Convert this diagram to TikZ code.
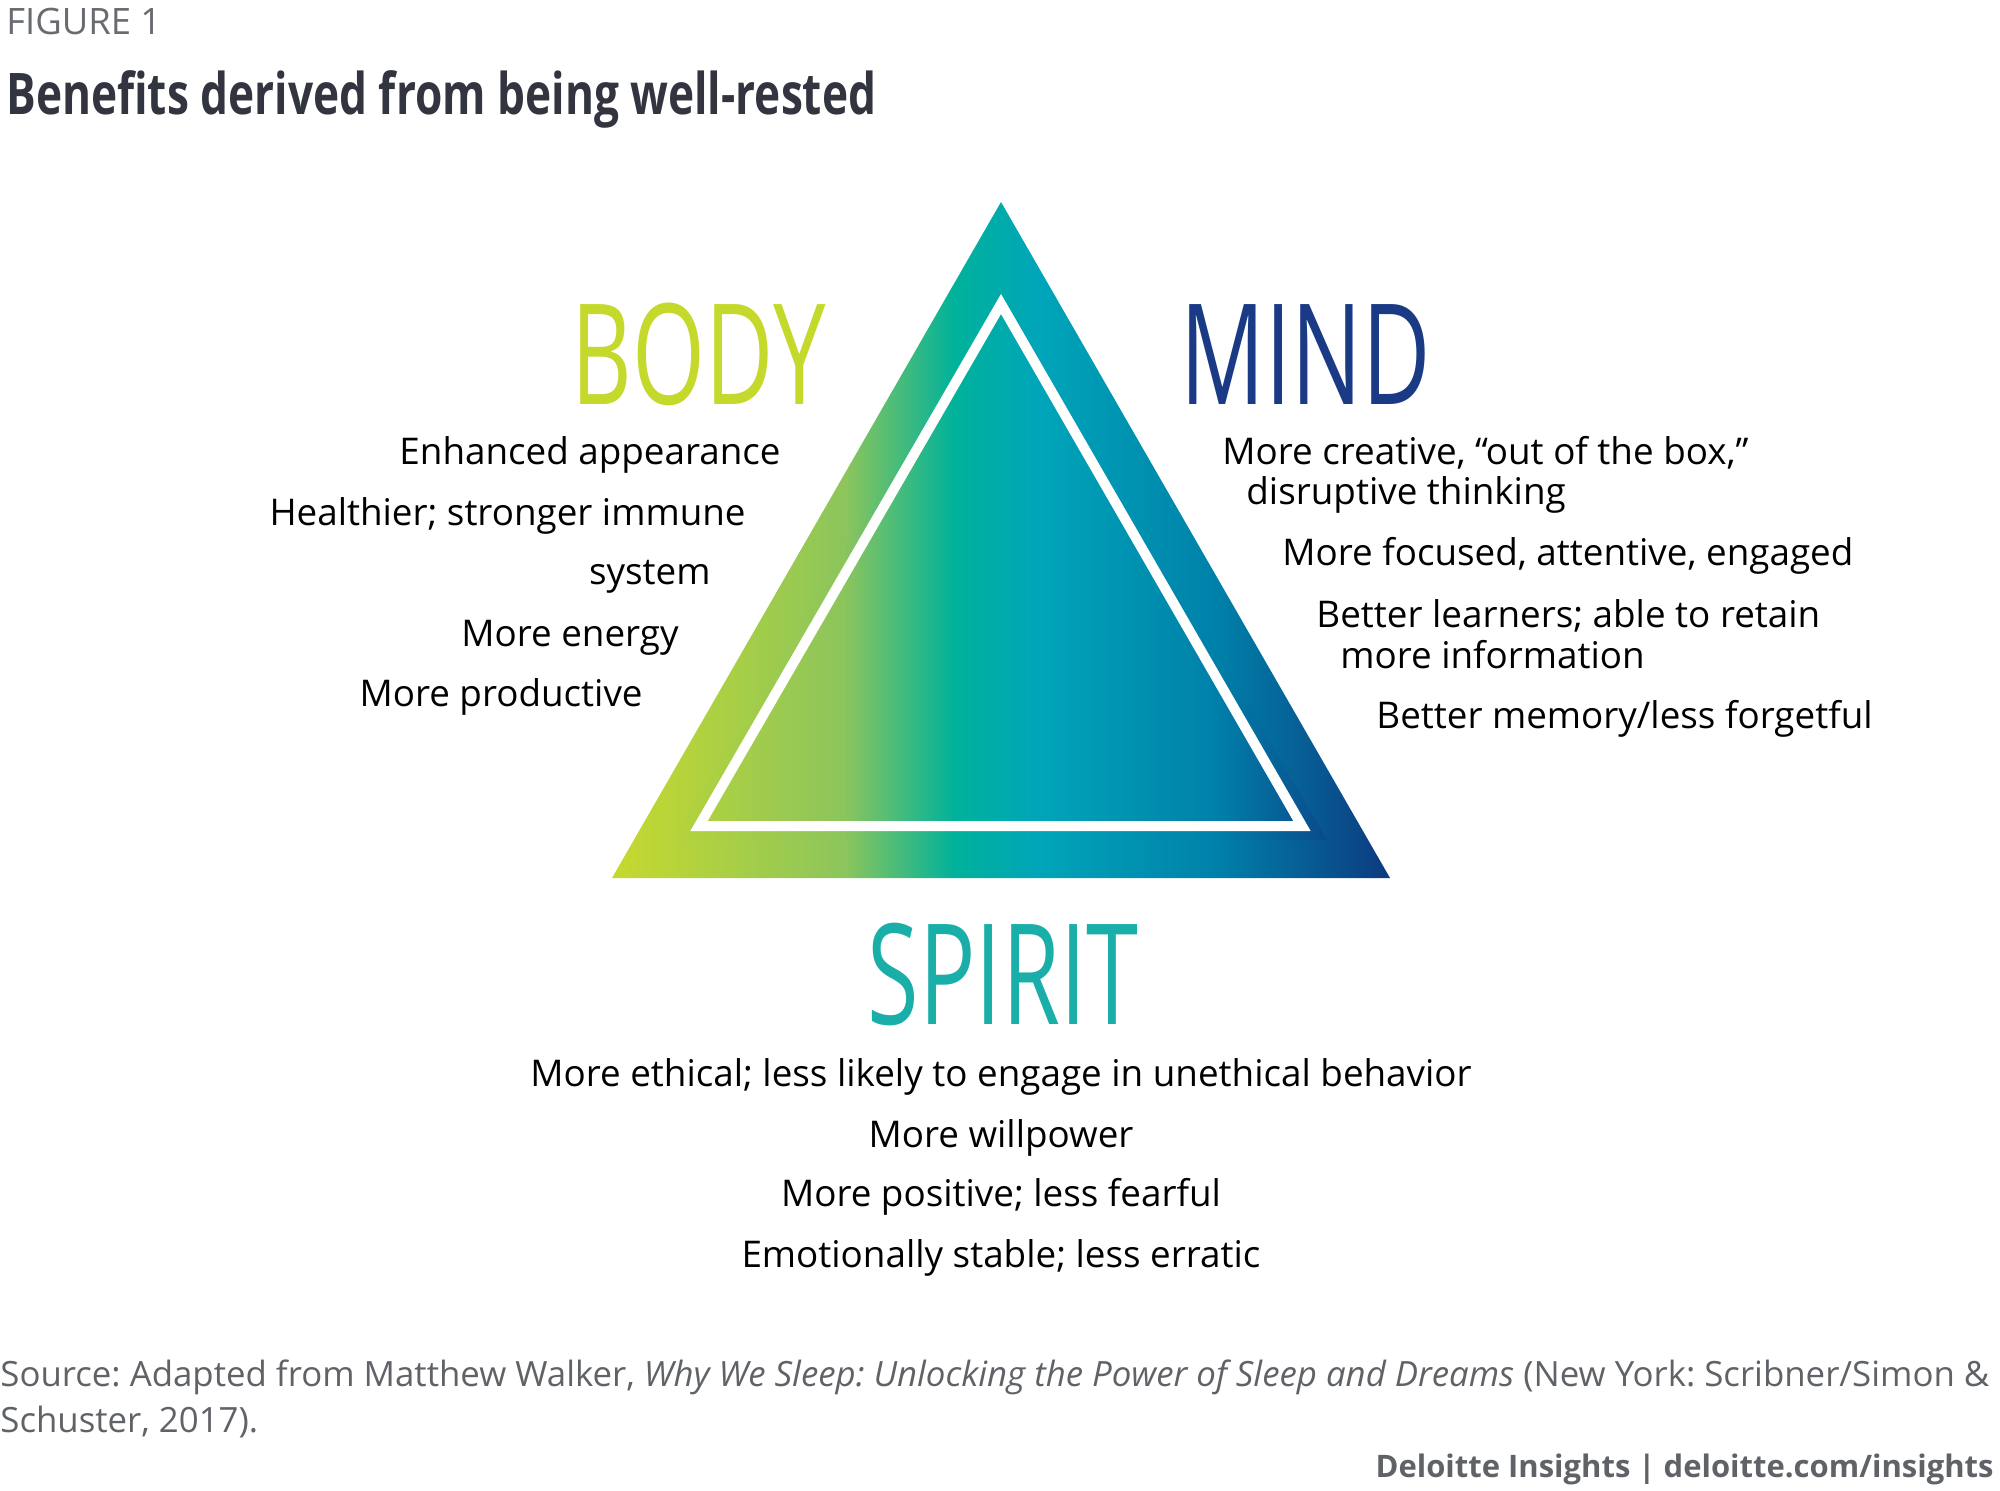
\documentclass[tikz,border=0pt]{standalone}
\usepackage{fontspec}
\setmainfont{Open Sans}
\newfontfamily\condfont[FakeStretch=0.67]{Open Sans}
\newfontfamily\titlefont[FakeStretch=0.77]{Open Sans}
\frenchspacing

\definecolor{g1}{HTML}{C6D92E}
\definecolor{g2}{HTML}{8CC55C}
\definecolor{g3}{HTML}{00B29B}
\definecolor{g4}{HTML}{00A5B9}
\definecolor{g5}{HTML}{0080A9}
\definecolor{g6}{HTML}{0D3A7F}
\definecolor{m1}{HTML}{B5D33C}
\definecolor{m6}{HTML}{0B4A8C}
\definecolor{bodygreen}{HTML}{C5D92D}
\definecolor{mindblue}{HTML}{1B3A86}
\definecolor{spiritteal}{HTML}{1AAEA9}
\definecolor{titlegray}{HTML}{32353F}
\definecolor{figgray}{HTML}{686B70}
\definecolor{srcgray}{HTML}{5F6368}

\pgfdeclarehorizontalshading{tri}{100bp}{color(0bp)=(g1); color(25bp)=(g1);
  color(40bp)=(g2); color(47bp)=(g3); color(52.5bp)=(g4); color(64bp)=(g5);
  color(75bp)=(g6); color(100bp)=(g6)}
\pgfdeclarehorizontalshading{trimid}{100bp}{color(0bp)=(m1); color(25bp)=(m1);
  color(38bp)=(g2); color(46.5bp)=(g3); color(53bp)=(g4); color(66.5bp)=(g5);
  color(75bp)=(m6); color(100bp)=(m6)}

\tikzset{
  heading/.style={inner sep=0pt, font=\condfont\fontsize{70}{70}\selectfont},
  item/.style={inner sep=0pt, font=\fontsize{18.4}{20}\selectfont},
}

\begin{document}
\begin{tikzpicture}[x=0.5pt,y=-0.5pt]
  \useasboundingbox (0,0) rectangle (2000,1491);

  % header
  \node[inner sep=0pt, anchor=base west, text=figgray,
        font=\fontsize{18.2}{20}\selectfont] (fig) at (6,35) {FIGURE 1};
  \node[inner sep=0pt, anchor=base west, text=titlegray,
        font=\titlefont\bfseries\fontsize{28.7}{32}\selectfont] (title) at (6,115)
        {Benefits derived from being well-rested};

  % triangle
  \coordinate (top) at (1001,202);
  \coordinate (bl)  at (612,878);
  \coordinate (br)  at (1390,878);
  \shade[shading=tri] (top) -- (bl) -- (br) -- cycle;
  \shade[shading=trimid] (1001,279) -- (674,840) -- (1327,840) -- cycle;
  \draw[white, line width=5pt, line join=miter] (1001,304) -- (699,826) -- (1302,826) -- cycle;

  % headings
  \node[heading, anchor=base east, text=bodygreen]  (body)   at (826,405)  {BODY};
  \node[heading, anchor=base west, text=mindblue]   (mind)   at (1180,405) {MIND};
  \node[heading, anchor=base,      text=spiritteal] (spirit) at (1003,1024) {SPIRIT};

  \begin{scope}[every node/.style={item, anchor=base east}]
    \node (b1) at (781,465) {Enhanced appearance};
    \node (b2) at (746,526) {Healthier; stronger immune};
    \node (b3) at (711,585) {system};
    \node (b4) at (679,646) {More energy};
    \node (b5) at (643,706) {More productive};
  \end{scope}

  \begin{scope}[every node/.style={item, anchor=base west}]
    \node (m1) at (1222,465) {More creative, “out of the box,”};
    \node (m2) at (1246,505) {disruptive thinking};
    \node (m3) at (1282,566) {More focused, attentive, engaged};
    \node (m4) at (1316,627) {Better learners; able to retain};
    \node (m5) at (1340,668) {more information};
    \node (m6) at (1376,728) {Better memory/less forgetful};
  \end{scope}

  \begin{scope}[every node/.style={item, anchor=base}]
    \node (s1) at (1001,1086) {More ethical; less likely to engage in unethical behavior};
    \node (s2) at (1001,1147) {More willpower};
    \node (s3) at (1001,1206) {More positive; less fearful};
    \node (s4) at (1001,1267) {Emotionally stable; less erratic};
  \end{scope}

  % footer
  \begin{scope}[every node/.style={inner sep=0pt, text=srcgray, font=\fontsize{17.4}{20}\selectfont}]
    \node[anchor=base west] (src1) at (0,1386)
      {Source: Adapted from Matthew Walker, \textit{Why We Sleep: Unlocking the Power of Sleep and Dreams} (New York: Scribner/Simon \&};
    \node[anchor=base west] (src2) at (0,1432) {Schuster, 2017).};
    \node[anchor=base east, font=\bfseries\fontsize{15.5}{20}\selectfont] (credit) at (1994,1477)
      {Deloitte Insights | deloitte.com/insights};
  \end{scope}
\end{tikzpicture}
\end{document}
